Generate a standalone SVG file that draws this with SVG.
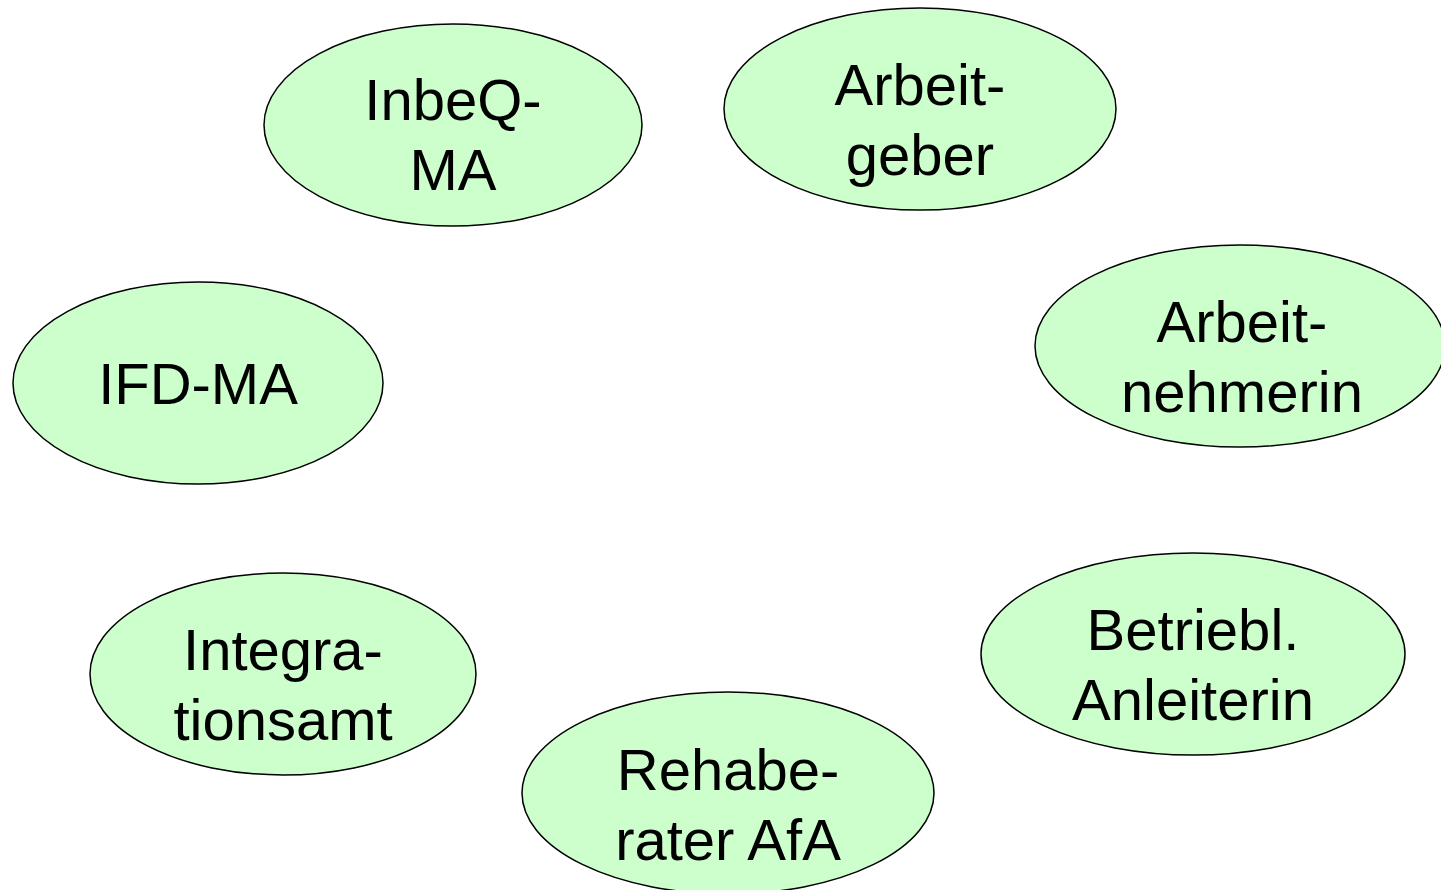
<svg xmlns="http://www.w3.org/2000/svg" width="1441" height="890" viewBox="0 0 1441 890">
<style>
.n{fill:#CCFFCC;stroke:#000;stroke-width:1.5}
.t{font-family:"Liberation Sans",Arial,sans-serif;font-size:58px;fill:#000;text-anchor:middle}
</style>
<rect width="1441" height="890" fill="#fff"/>
<g id="connectors"></g>
<g id="inbeq"><ellipse class="n" cx="453" cy="125" rx="189" ry="101"/><text class="t" x="453" y="120">InbeQ-</text><text class="t" x="453" y="190">MA</text></g>
<g id="arbeitgeber"><ellipse class="n" cx="920" cy="109" rx="196" ry="101"/><text class="t" x="920" y="105">Arbeit-</text><text class="t" x="920" y="175">geber</text></g>
<g id="arbeitnehmerin"><ellipse class="n" cx="1240" cy="346" rx="205" ry="101"/><text class="t" x="1242" y="342">Arbeit-</text><text class="t" x="1242" y="412">nehmerin</text></g>
<g id="ifd"><ellipse class="n" cx="198" cy="383" rx="185" ry="101"/><text class="t" x="198" y="404">IFD-MA</text></g>
<g id="anleiterin"><ellipse class="n" cx="1193" cy="654" rx="212" ry="101"/><text class="t" x="1193" y="650">Betriebl.</text><text class="t" x="1193" y="720">Anleiterin</text></g>
<g id="integrationsamt"><ellipse class="n" cx="283" cy="674" rx="193" ry="101"/><text class="t" x="283" y="670">Integra-</text><text class="t" x="283" y="740">tionsamt</text></g>
<g id="rehaberater"><ellipse class="n" cx="728" cy="793" rx="206" ry="101"/><text class="t" x="728" y="790">Rehabe-</text><text class="t" x="728" y="860">rater AfA</text></g>
</svg>
